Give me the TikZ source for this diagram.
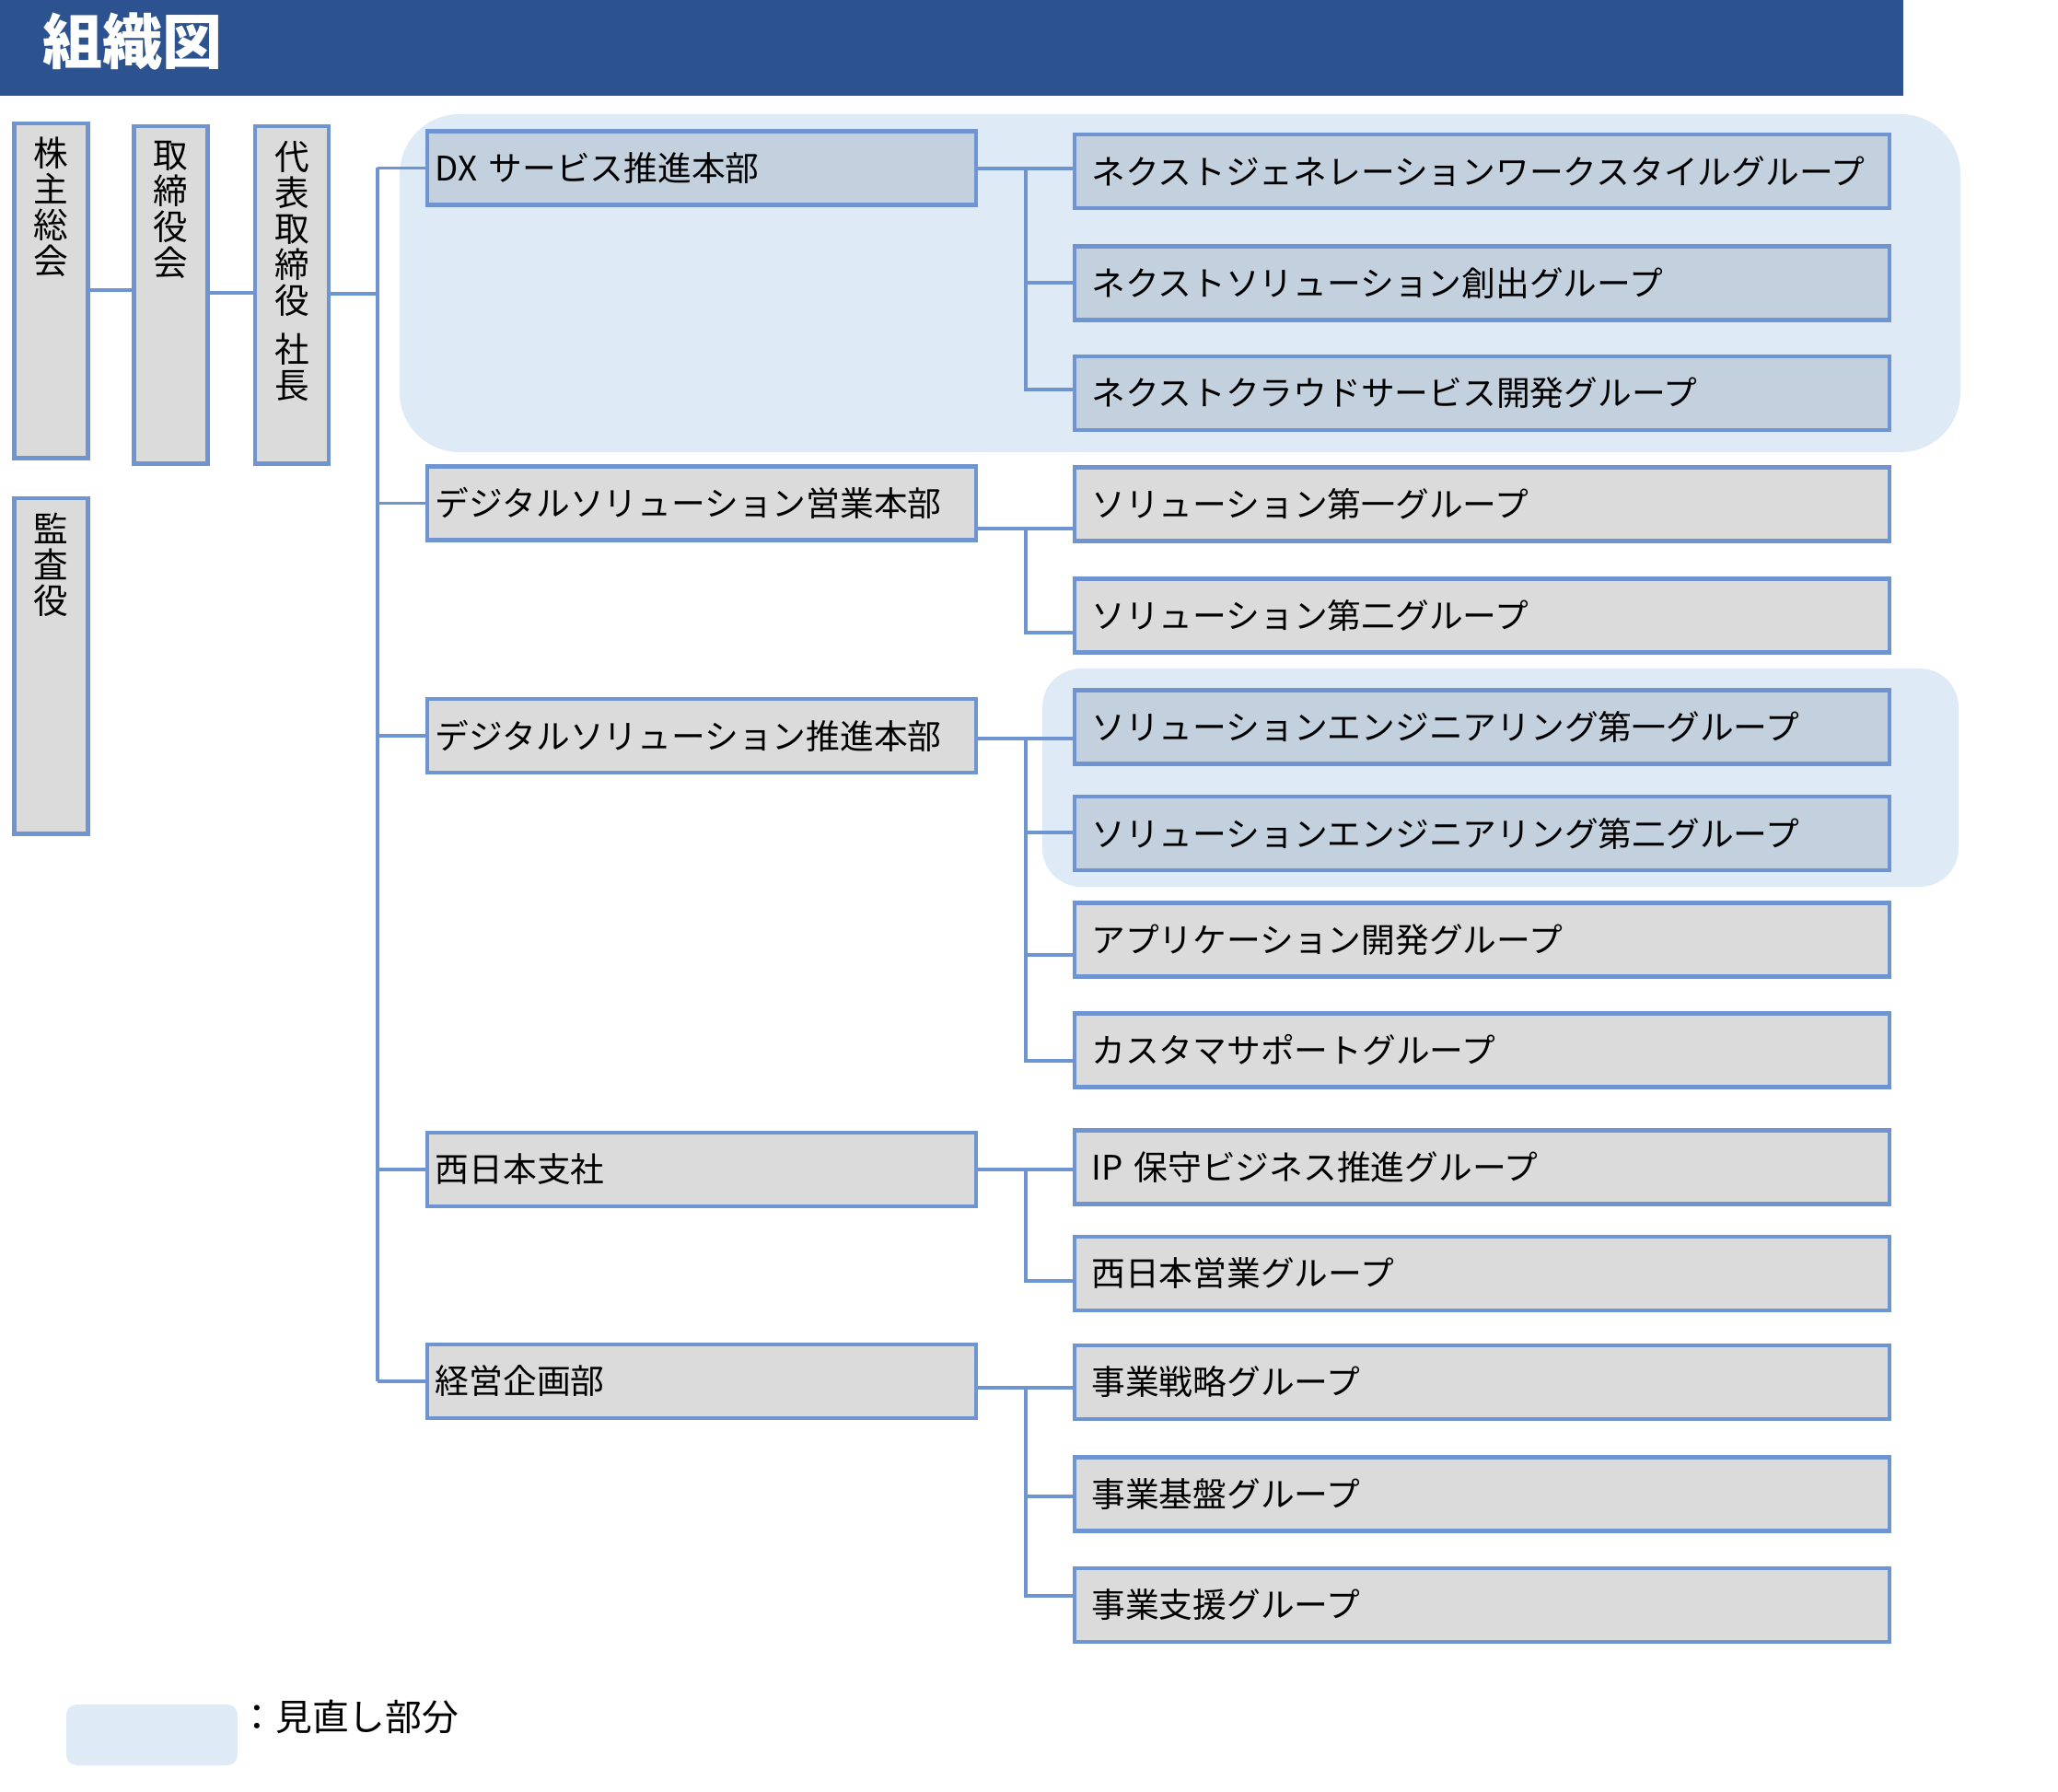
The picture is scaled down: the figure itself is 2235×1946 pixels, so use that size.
\documentclass[tikz,border=0pt]{standalone}
\usepackage{fontspec}
\setmainfont{Noto Sans CJK JP}
\definecolor{banner}{RGB}{44,83,144}
\definecolor{bord}{RGB}{110,148,210}
\definecolor{boxgray}{RGB}{219,219,219}
\definecolor{boxblue}{RGB}{195,209,222}
\definecolor{hilite}{RGB}{222,234,246}
\begin{document}
\begin{tikzpicture}[x=0.01cm,y=-0.01cm,
  box/.style={draw=bord, line width=1.2pt, fill=boxgray, inner ysep=0pt,
    minimum height=0.8cm, align=left, text=black,
    font=\fontsize{10.45pt}{12pt}\selectfont},
  hqbox/.style={box, inner xsep=0.09cm, text width=5.78cm, minimum width=5.96cm},
  grpbox/.style={box, inner xsep=0.18cm, text width=8.48cm, minimum width=8.84cm},
  hibox/.style={fill=boxblue},
  vbox/.style={draw=bord, line width=1.2pt, fill=boxgray, minimum width=0.8cm, inner sep=0pt},
  vtext/.style={anchor=north, align=center, inner sep=0pt, text=black,
    font=\fontsize{10.7pt}{11.1pt}\selectfont},
  conn/.style={draw=bord, line width=1.1pt},
  hiarea/.style={fill=hilite}
  ]
\useasboundingbox (0,0) rectangle (2235,1946);
% banner
\fill[banner] (0,0) rectangle (2067,104);
\node[text=white, font=\fontsize{18.5pt}{20pt}\selectfont\bfseries, inner sep=0pt] (title) at (144,45) {組織図};

% highlight areas
\fill[hiarea, rounded corners=0.65cm] (434,124) rectangle (2129,491);
\fill[hiarea, rounded corners=0.42cm] (1132,726) rectangle (2127,963);

% left column boxes
\node[vbox, minimum height=3.63cm] (sh) at (55.5,316) {};
\node[vtext] (sht) at ([yshift=-0.16cm]sh.north) {株\\主\\総\\会};
\node[vbox, minimum height=3.66cm] (bd) at (185.5,320.5) {};
\node[vtext] (bdt) at ([yshift=-0.17cm]bd.north) {取\\締\\役\\会};
\node[vbox, minimum height=3.66cm] (ceo) at (317,320.5) {};
\node[vtext] (ceot) at ([yshift=-0.17cm]ceo.north) {代\\表\\取\\締\\役\\[0.14cm]社\\長};
\node[vbox, minimum height=3.64cm] (aud) at (55.5,723.5) {};
\node[vtext] (audt) at ([yshift=-0.17cm]aud.north) {監\\査\\役};

% headquarters
\node[hqbox, hibox] (hq1) at (762,182.5) {DX サービス推進本部};
\node[hqbox] (hq2) at (762,546.5) {デジタルソリューション営業本部};
\node[hqbox] (hq3) at (762,799) {デジタルソリューション推進本部};
\node[hqbox] (hq4) at (762,1270) {西日本支社};
\node[hqbox] (hq5) at (762,1500) {経営企画部};

% groups
\node[grpbox, hibox] (ng) at (1609.5,186) {ネクストジェネレーションワークスタイルグループ};
\node[grpbox, hibox] (ns) at (1609.5,307.5) {ネクストソリューション創出グループ};
\node[grpbox, hibox] (nc) at (1609.5,427) {ネクストクラウドサービス開発グループ};
\node[grpbox] (s1) at (1609.5,547.5) {ソリューション第一グループ};
\node[grpbox] (s2) at (1609.5,668.5) {ソリューション第二グループ};
\node[grpbox, hibox] (se1) at (1609.5,789.5) {ソリューションエンジニアリング第一グループ};
\node[grpbox, hibox] (se2) at (1609.5,905) {ソリューションエンジニアリング第二グループ};
\node[grpbox] (app) at (1609.5,1020.5) {アプリケーション開発グループ};
\node[grpbox] (cs) at (1609.5,1140.5) {カスタマサポートグループ};
\node[grpbox] (ip) at (1609.5,1267.5) {IP 保守ビジネス推進グループ};
\node[grpbox] (wj) at (1609.5,1383) {西日本営業グループ};
\node[grpbox] (bs) at (1609.5,1501) {事業戦略グループ};
\node[grpbox] (bb) at (1609.5,1622.5) {事業基盤グループ};
\node[grpbox] (bsp) at (1609.5,1743) {事業支援グループ};

% left connectors
\coordinate (lA) at (0,315);
\coordinate (lB) at (0,318);
\coordinate (tx) at (410,319);
\draw[conn] (sh.east |- lA) -- (bd.west |- lA);
\draw[conn] (bd.east |- lB) -- (ceo.west |- lB);
\draw[conn] (ceo.east |- tx) -- (tx);
% trunk
\draw[conn] (hq1.west -| tx) -- (hq5.west -| tx);
\foreach \i in {1,...,5} { \draw[conn] (hq\i.west -| tx) -- (hq\i.west); }

% sub connectors
\coordinate (j11) at (1114,183);
\coordinate (j12) at (1114,307);
\coordinate (j13) at (1114,423);
\draw[conn] (hq1.east |- j11) -- (ng.west |- j11);
\draw[conn] (j11) |- (nc.west |- j13);
\draw[conn] (j12) -- (ns.west |- j12);

\coordinate (j21) at (1114,574);
\coordinate (j22) at (1114,687);
\draw[conn] (hq2.east |- j21) -- (s1.west |- j21);
\draw[conn] (j21) |- (s2.west |- j22);

\coordinate (j31) at (1114,802);
\coordinate (j32) at (1114,904);
\coordinate (j33) at (1114,1037);
\coordinate (j34) at (1114,1152);
\draw[conn] (hq3.east |- j31) -- (se1.west |- j31);
\draw[conn] (j31) |- (cs.west |- j34);
\draw[conn] (j32) -- (se2.west |- j32);
\draw[conn] (j33) -- (app.west |- j33);

\coordinate (j41) at (1114,1270);
\coordinate (j42) at (1114,1391);
\draw[conn] (hq4.east |- j41) -- (ip.west |- j41);
\draw[conn] (j41) |- (wj.west |- j42);

\coordinate (j51) at (1114,1507);
\coordinate (j52) at (1114,1625);
\coordinate (j53) at (1114,1733);
\draw[conn] (hq5.east |- j51) -- (bs.west |- j51);
\draw[conn] (j51) |- (bsp.west |- j53);
\draw[conn] (j52) -- (bb.west |- j52);

% legend
\fill[hiarea, rounded corners=0.11cm] (72,1851) rectangle (258,1917);
\node[anchor=west, inner sep=0pt, text=black, font=\fontsize{11.3pt}{13pt}\selectfont] (leg) at (259,1864) {：見直し部分};
\end{tikzpicture}
\end{document}
